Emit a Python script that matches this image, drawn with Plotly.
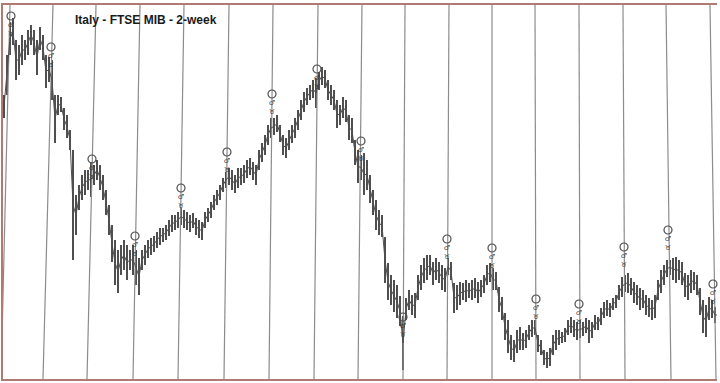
import plotly.graph_objects as go

# 2-week bars, FTSE MIB (level units, arbitrary scale)
bar_index = list(range(239))
high = [285, 325, 358, 362, 340, 335, 345, 340, 350, 355, 350, 340, 353, 345, 325, 323, 320, 285, 285, 283,
        272, 265, 250, 230, 185, 195, 205, 210, 210, 218, 215, 220, 215, 205, 190, 175, 155, 140, 130, 135,
        140, 135, 130, 135, 130, 122, 130, 135, 140, 142, 144, 148, 152, 152, 155, 160, 165, 165, 168, 172,
        170, 168, 165, 167, 162, 160, 158, 168, 172, 178, 185, 190, 195, 202, 208, 212, 210, 205, 212, 212,
        215, 220, 222, 218, 215, 230, 237, 245, 255, 262, 262, 265, 255, 245, 242, 250, 255, 262, 270, 280,
        288, 292, 295, 300, 302, 308, 313, 310, 300, 295, 290, 280, 275, 283, 280, 265, 262, 240, 230, 225,
        227, 220, 205, 190, 180, 170, 165, 143, 117, 105, 100, 95, 84, 64, 82, 90, 85, 87, 105, 115,
        122, 125, 125, 118, 122, 118, 115, 112, 122, 118, 97, 95, 98, 97, 100, 97, 100, 102, 98, 100,
        105, 115, 117, 112, 108, 93, 83, 67, 60, 45, 40, 50, 53, 47, 50, 55, 60, 60, 45, 40,
        30, 28, 32, 45, 50, 50, 48, 52, 60, 63, 60, 58, 60, 58, 62, 60, 58, 65, 63, 72,
        78, 80, 77, 82, 85, 95, 103, 105, 107, 102, 98, 95, 92, 90, 85, 82, 80, 85, 100, 110,
        115, 120, 120, 122, 123, 120, 118, 107, 105, 110, 108, 105, 92, 80, 75, 83, 80, 73, 75]
low = [262, 285, 325, 335, 300, 305, 315, 320, 325, 335, 325, 305, 330, 320, 292, 298, 280, 237, 265, 268,
       250, 242, 230, 120, 145, 170, 180, 185, 190, 183, 195, 200, 190, 180, 165, 145, 118, 95, 87, 105,
       110, 100, 110, 105, 95, 85, 110, 115, 122, 125, 128, 132, 135, 138, 140, 144, 148, 150, 152, 155,
       152, 150, 148, 152, 145, 142, 140, 152, 158, 162, 170, 175, 180, 188, 192, 195, 190, 187, 192, 195,
       197, 202, 205, 200, 195, 210, 218, 225, 235, 242, 245, 248, 238, 225, 222, 230, 237, 242, 250, 260,
       268, 275, 280, 282, 272, 290, 295, 292, 280, 275, 270, 252, 255, 262, 258, 240, 237, 215, 197, 200,
       185, 190, 177, 165, 150, 145, 143, 97, 80, 75, 68, 62, 54, 10, 60, 70, 65, 62, 80, 90,
       97, 100, 105, 95, 100, 97, 90, 88, 105, 100, 67, 70, 75, 80, 78, 82, 80, 82, 77, 83,
       87, 95, 98, 90, 90, 68, 60, 40, 27, 20, 18, 27, 30, 30, 32, 40, 43, 45, 28, 25,
       15, 12, 14, 25, 30, 35, 37, 38, 45, 47, 43, 40, 42, 44, 47, 37, 42, 50, 50, 55,
       62, 64, 63, 70, 72, 80, 83, 88, 87, 85, 77, 75, 70, 72, 65, 63, 60, 62, 80, 87,
       95, 103, 105, 100, 97, 100, 95, 83, 80, 87, 90, 85, 65, 47, 43, 60, 62, 57, 55]

# cycle lines (bar index where each line meets the top and the bottom of the frame)
cycle_top = [2, 16.33, 30.67, 45.33, 60, 75, 89.67, 104.67, 119.33, 133.67, 148.33, 162.67, 177, 191.67,
             206.33, 220.67, 235.33]
cycle_bottom = [-1, 13, 27.67, 43, 58, 73.33, 88.33, 103.33, 118, 133, 147.67, 162.67, 177.33, 192, 207,
                222.33, 237.33]

# turning-point markers on each cycle line
marker_x = [2.33, 15.67, 29.33, 43.67, 59, 74.33, 89.33, 104.33, 119, 133, 147.67, 162.67, 177.33, 191.67,
            206.67, 221.33, 236.33]
marker_y = [364, 333, 221, 144, 192, 228, 286, 311, 239, 63, 141, 132, 81, 76, 133, 150, 96]
marker_text = ["\u2642\ufe0e<br>\u2649\ufe0e"] * len(marker_x)

Y_TOP, Y_BOTTOM = 375, 1
BAR_COLOR = "#4f4f4f"

fig = go.Figure()

lx, ly = [], []
for t, b in zip(cycle_top, cycle_bottom):
    lx += [t, b, None]
    ly += [Y_TOP, Y_BOTTOM, None]
fig.add_trace(go.Scatter(x=lx, y=ly, mode="lines", line=dict(color="#8c8c8c", width=1.2),
                         hoverinfo="skip", showlegend=False))

# thin path through bar mid-ranges (stands in for the open/close ticks)
fig.add_trace(go.Scatter(x=bar_index, y=[(h + l) / 2 for h, l in zip(high, low)], mode="lines",
                         line=dict(color=BAR_COLOR, width=1), hoverinfo="skip", showlegend=False))

fig.add_trace(go.Bar(x=bar_index, y=[h - l for h, l in zip(high, low)], base=low, width=0.55,
                     marker=dict(color=BAR_COLOR, line=dict(width=0)), showlegend=False))

fig.add_trace(go.Scatter(x=marker_x, y=marker_y, mode="markers+text", text=marker_text,
                         textposition="bottom center",
                         textfont=dict(size=7, color="#3a3a3a", family="DejaVu Sans"),
                         marker=dict(symbol="circle-open", size=8, color="#505050", line=dict(width=1.2)),
                         showlegend=False, cliponaxis=False))

fig.add_annotation(text="<b>Italy - FTSE MIB - 2-week</b>", xref="paper", yref="paper",
                   x=0.098, y=0.96, xanchor="left", yanchor="middle", showarrow=False,
                   font=dict(family="Liberation Sans, Arial", size=12, color="#1a1a1a"))

fig.update_layout(
    width=720, height=383,
    margin=dict(l=3, r=3, t=5, b=4),
    paper_bgcolor="white", plot_bgcolor="white",
    xaxis=dict(range=[-1/3, 237.667], showgrid=False, zeroline=False, showticklabels=False, ticks="",
               showline=True, mirror=True, linecolor="#b07a72", linewidth=2),
    yaxis=dict(range=[Y_BOTTOM, Y_TOP], showgrid=False, zeroline=False, showticklabels=False, ticks="",
               showline=True, mirror=False, linecolor="#b07a72", linewidth=2),
    bargap=0,
)

fig.write_html("out.html")
